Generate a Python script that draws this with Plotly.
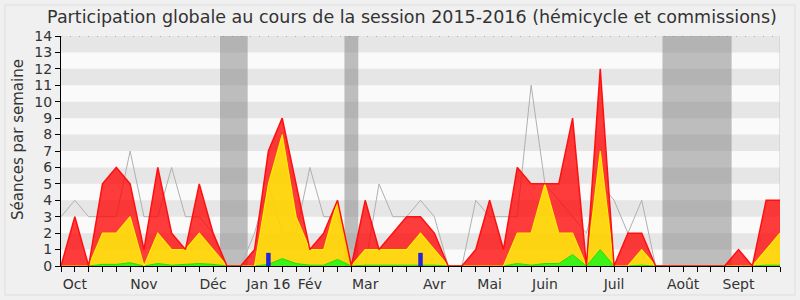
import plotly.graph_objects as go

weeks = list(range(53))
total = [0, 3, 0, 5, 6, 5, 1, 6, 2, 1, 5, 2, 0, 0, 1, 7, 9, 5, 1, 2, 4, 0, 4, 1, 2, 3, 3, 2, 0, 0,
         1, 4, 1, 6, 5, 5, 5, 9, 0, 12, 0, 2, 2, 0, 0, 0, 0, 0, 0, 1, 0, 4, 4]
hemicycle = [0, 0, 0, 2, 2, 3, 0, 2, 1, 1, 2, 1, 0, 0, 0, 5, 8, 3, 1, 1, 4, 0, 1, 1, 1, 1, 2, 1, 0, 0,
             0, 0, 0, 2, 2, 5, 2, 2, 0, 7, 0, 0, 1, 0, 0, 0, 0, 0, 0, 0, 0, 1, 2]
interventions = [0, 0, 0, 0.1, 0.1, 0.2, 0, 0.15, 0.05, 0.1, 0.15, 0.1, 0, 0, 0, 0.1, 0.45, 0.15, 0.05,
                 0.05, 0.4, 0, 0.05, 0.05, 0.05, 0.05, 0.05, 0.05, 0, 0, 0, 0, 0, 0.15, 0.05, 0.15, 0.15,
                 0.7, 0, 1, 0, 0, 0.05, 0, 0, 0, 0, 0, 0, 0, 0, 0.05, 0.05]
median = [3, 4, 3, 3, 3, 7, 3, 3, 6, 3, 3, 2, 0, 0, 2, 5, 2, 2, 6, 3, 3, 0, 0, 5, 3, 3, 4, 3, 0, 0,
          4, 3, 3, 3, 11, 5, 4, 3, 2, 5, 4, 2, 4, 0, 0, 0, 0, 0, 0, 0, 0, 0, 0]
bar_weeks = [15, 26]
bar_values = [0.8, 0.8]
vacations = [(11.5, 13.5), (20.5, 21.5), (43.5, 48.5)]
month_weeks = [1, 6, 11, 15, 18, 22, 27, 31, 35, 40, 45, 49]
month_labels = ["Oct", "Nov", "Déc", "Jan 16", "Fév", "Mar", "Avr", "Mai", "Juin", "Juil", "Août", "Sept"]

FONT = "DejaVu Sans"
fig = go.Figure()

shapes = []
for k in range(1, 14, 2):
    shapes.append(dict(type="rect", xref="x", yref="y", x0=0, x1=52, y0=k, y1=k + 1,
                       fillcolor="#e6e6e6", line_width=0, layer="below"))
for a, b in vacations:
    shapes.append(dict(type="rect", xref="x", yref="y", x0=a, x1=b, y0=0, y1=14,
                       fillcolor="rgba(128,128,128,0.5)", line_width=0, layer="below"))
shapes.append(dict(type="line", xref="x", yref="y", x0=52, x1=52, y0=0, y1=14,
                   line=dict(color="#c8c8c8", width=1), layer="below"))
shapes.append(dict(type="line", xref="x", yref="y", x0=0, x1=52, y0=14, y1=14,
                   line=dict(color="#777777", width=1, dash="1px,8px"), layer="below"))
# light outer frame
shapes.append(dict(type="rect", xref="paper", yref="paper",
                   x0=(5 - 61) / 719, x1=(795 - 61) / 719, y0=(266 - 295) / 230, y1=(266 - 5) / 230,
                   line=dict(color="#dddddd", width=1), fillcolor="rgba(0,0,0,0)", layer="below"))

fig.add_trace(go.Scatter(x=weeks, y=median, mode="lines", line=dict(color="#b0b0b0", width=1),
                         hoverinfo="skip", showlegend=False))
fig.add_trace(go.Scatter(x=weeks, y=interventions, mode="lines", line=dict(color="#22dd00", width=1),
                         fill="tozeroy", fillcolor="rgba(40,240,0,0.9)", showlegend=False))
fig.add_trace(go.Scatter(x=weeks, y=hemicycle, mode="lines", line=dict(color="#ffee00", width=1.2),
                         fill="tonexty", fillcolor="rgba(255,210,0,0.92)", showlegend=False))
fig.add_trace(go.Scatter(x=weeks, y=total, mode="lines", line=dict(color="#ff1010", width=1.5),
                         fill="tonexty", fillcolor="rgba(255,0,0,0.76)", showlegend=False))

# blue bars drawn as thick vertical segments so they sit above the areas
bx, by = [], []
for w, v in zip(bar_weeks, bar_values):
    bx += [w, w, None]
    by += [0, v, None]
fig.add_trace(go.Scatter(x=bx, y=by, mode="lines", line=dict(color="#2424dd", width=4.5),
                         showlegend=False))

ticktext = []
for w in weeks:
    ticktext.append(month_labels[month_weeks.index(w)] if w in month_weeks else "")

fig.update_layout(
    width=800, height=300, autosize=False,
    margin=dict(l=61, r=20, t=36, b=34, pad=0, autoexpand=False),
    paper_bgcolor="#f0f0f0", plot_bgcolor="#fafafa",
    shapes=shapes,
    title=dict(text="Participation globale au cours de la session 2015-2016 (hémicycle et commissions)",
               x=0.515, xref="container", xanchor="center", y=0.943, yref="container", yanchor="middle",
               font=dict(family=FONT, size=17.5, color="#333333"), automargin=False),
    xaxis=dict(range=[0, 52], tickvals=weeks, ticktext=ticktext, ticks="outside", ticklen=5,
               tickcolor="#000000", showgrid=False, zeroline=False, showline=True, linecolor="#000000",
               linewidth=1, tickfont=dict(family=FONT, size=14, color="#333333"), fixedrange=True,
               automargin=False),
    yaxis=dict(range=[0, 14], tickvals=list(range(15)), ticks="outside", ticklen=5, tickcolor="#000000",
               showgrid=False, zeroline=False, showline=True, linecolor="#000000", linewidth=1,
               tickfont=dict(family=FONT, size=14, color="#333333"), fixedrange=True,
               automargin=False),
    annotations=[dict(text="Séances par semaine", xref="paper", yref="paper", x=(18 - 61) / 719,
                      y=(266 - 140) / 230, textangle=-90, showarrow=False, xanchor="center",
                      yanchor="middle", font=dict(family=FONT, size=15, color="#333333"))],
)
fig.write_html("out.html", config={"responsive": False})
